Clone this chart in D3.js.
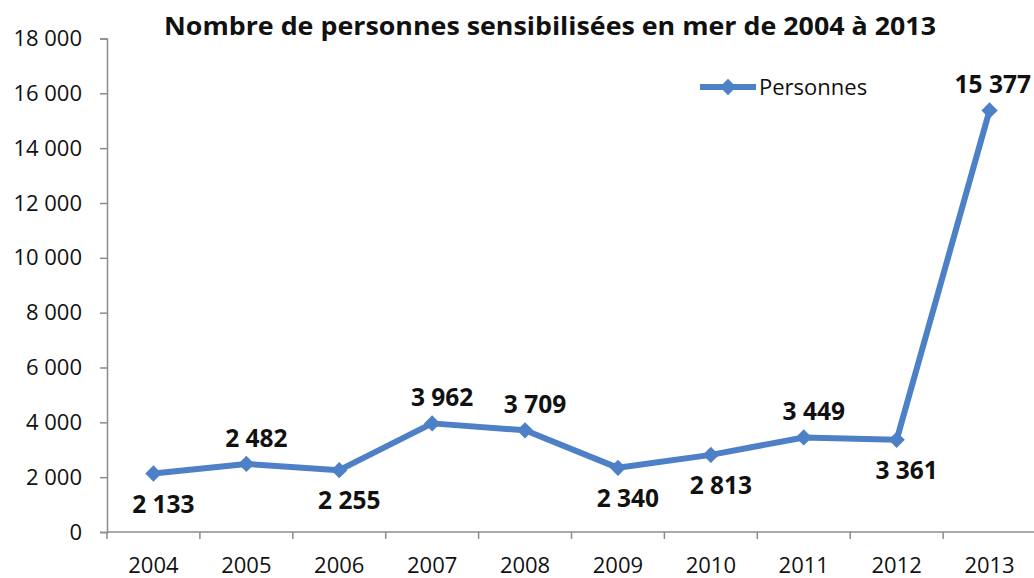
<!DOCTYPE html>
<html><head><meta charset="utf-8">
<script src="https://cdn.jsdelivr.net/npm/d3@7"></script>
<style>body{margin:0;background:#fff;} svg{display:block;font-family:"Open Sans",sans-serif;}</style>
</head><body>
<svg id="c" width="1034" height="578"></svg>
<script>
const years = ["2004","2005","2006","2007","2008","2009","2010","2011","2012","2013"];
const personnes = [2133,2482,2255,3962,3709,2340,2813,3449,3361,15377];
const labelSide = ["below","above","below","above","above","below","below","above","below","above"];
const yTicks = [0,2000,4000,6000,8000,10000,12000,14000,16000,18000];
const title = "Nombre de personnes sensibilisées en mer de 2004 à 2013";
const seriesName = "Personnes";

(function(){
const svg = d3.select("#c");
const W = 1034;
const mL = 107, mR = 1036, mT = 38.5, mB = 532;
const x = d3.scaleBand().domain(years).range([mL, mR]);
const y = d3.scaleLinear().domain([0,18000]).range([mB, mT]);
const fmt = v => d3.format(",")(v).replace(/,/g, " ");
const color = "#4D80C6";
const axisCol = "#8c8c8c";

// y axis
const ya = svg.append("g").attr("transform",`translate(${mL},0)`)
  .call(d3.axisLeft(y).tickValues(yTicks).tickSize(7).tickPadding(18).tickFormat(fmt));
ya.select(".domain").attr("stroke",axisCol).attr("stroke-width",1.5);
ya.selectAll(".tick line").attr("stroke",axisCol).attr("stroke-width",1.5);
ya.selectAll("text").attr("font-size",22).attr("fill","#111").attr("font-family","'Open Sans',sans-serif");

// x axis
const xa = svg.append("g").attr("transform",`translate(0,${mB})`);
xa.append("line").attr("x1",mL).attr("x2",mR).attr("y1",0).attr("y2",0).attr("stroke",axisCol).attr("stroke-width",1.5);
const bounds = years.map(d=>x(d)).concat([x(years[years.length-1])+x.bandwidth()]);
xa.selectAll("line.tk").data(bounds).join("line").attr("class","tk")
  .attr("x1",d=>d).attr("x2",d=>d).attr("y1",0).attr("y2",7).attr("stroke",axisCol).attr("stroke-width",1.5);
xa.selectAll("text").data(years).join("text")
  .attr("x",d=>x(d)+x.bandwidth()/2).attr("y",41).attr("text-anchor","middle")
  .attr("font-size",22).attr("fill","#111").text(d=>d);

// line
const cx = d => x(d)+x.bandwidth()/2;
const line = d3.line().x((d,i)=>cx(years[i])).y(d=>y(d));
svg.append("path").datum(personnes).attr("d",line).attr("fill","none")
  .attr("stroke",color).attr("stroke-width",6).attr("stroke-linejoin","round");
const sym = d3.symbol().type(d3.symbolDiamond2).size(170);
svg.selectAll("path.m").data(personnes).join("path").attr("class","m")
  .attr("d",sym).attr("fill",color)
  .attr("transform",(d,i)=>`translate(${cx(years[i])},${y(d)})`);

// labels
svg.selectAll("text.lab").data(personnes).join("text").attr("class","lab")
  .attr("x",(d,i)=>cx(years[i])+10)
  .attr("y",(d,i)=>y(d)+(labelSide[i]==="above"?-17:39))
  .attr("text-anchor","middle").attr("font-size",24.5).attr("font-weight","bold").attr("fill","#111")
  .text(fmt)
  .each(function(d,i){
    const w = this.getComputedTextLength();
    const xc = +this.getAttribute("x");
    if (xc + w/2 > W - 3) this.setAttribute("x", W - 3 - w/2);
  });

// title
svg.append("text").attr("x",550).attr("y",35).attr("text-anchor","middle")
  .attr("font-size",25.5).attr("font-weight","bold").attr("fill","#111")
  .attr("textLength",772).attr("lengthAdjust","spacingAndGlyphs").text(title);

// legend
const lg = svg.append("g").attr("transform","translate(700,87)");
lg.append("line").attr("x1",0).attr("x2",56).attr("stroke",color).attr("stroke-width",6);
lg.append("path").attr("d",sym).attr("fill",color).attr("transform","translate(28,0)");
lg.append("text").attr("x",59).attr("y",7.5).attr("font-size",22).attr("fill","#111").text(seriesName);
})();
</script>
</body></html>
